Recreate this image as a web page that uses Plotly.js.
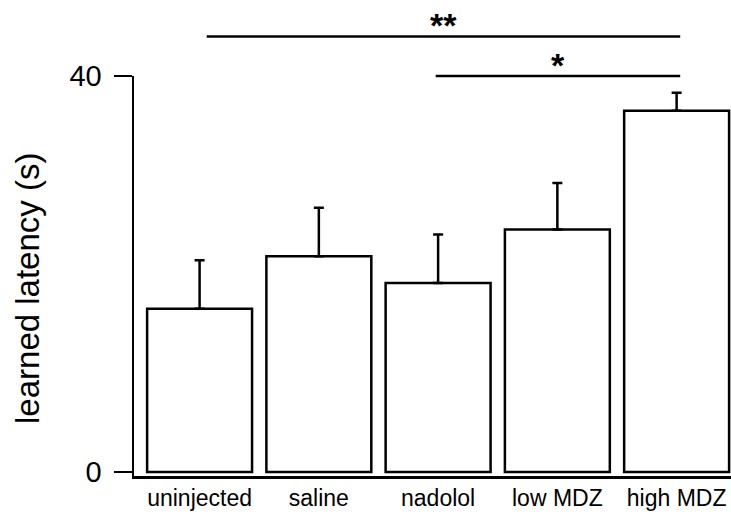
<!DOCTYPE html>
<html>
<head>
<meta charset="utf-8">
<script src="https://cdn.plot.ly/plotly-3.0.1.min.js"></script>
<style>html,body{margin:0;padding:0;background:#fff;}#chart{width:731px;height:516px;}</style>
</head>
<body>
<div id="chart"></div>
<script>
const categories = ['uninjected', 'saline', 'nadolol', 'low MDZ', 'high MDZ'];
const latency = [16.5, 21.8, 19.1, 24.5, 36.5];
const errorUp = [4.9, 4.9, 4.9, 4.7, 1.8];
const sigFrom = [0, 2];
const sigTo = [4, 4];
const sigHeight = [44.0, 40.0];
const sigLabels = ['**', '*'];
const yTickVals = [0, 40];
const yTickText = ['0', '40'];
const yTitle = 'learned latency (s)';

const yMin = -0.4, yMax = 40;
const toPaper = v => (v - yMin) / (yMax - yMin);

const shapes = [];
const annotations = [];
for (let i = 0; i < sigFrom.length; i++) {
  const x0 = sigFrom[i] + (sigFrom[i] === 0 ? 0.06 : -0.02);
  const x1 = sigTo[i] + 0.03;
  const yp = toPaper(sigHeight[i]);
  shapes.push({type: 'line', xref: 'x', yref: 'paper', x0: x0, x1: x1, y0: yp, y1: yp,
    line: {color: '#000', width: 2.5}});
  annotations.push({xref: 'x', yref: 'paper', x: (x0 + x1) / 2, y: yp, yshift: 11,
    text: sigLabels[i], showarrow: false, xanchor: 'center', yanchor: 'middle',
    font: {family: 'Liberation Sans, Arial, sans-serif', size: 34, color: '#000', weight: 'bold'}});
}
annotations.push({xref: 'paper', yref: 'paper', x: -107 / 597, y: (476 - 289) / 400,
  text: yTitle, textangle: -90, showarrow: false, xanchor: 'center', yanchor: 'middle',
  font: {family: 'Liberation Sans, Arial, sans-serif', size: 33, color: '#000'}});

const trace = {
  type: 'bar',
  x: categories.map((c, i) => i),
  y: latency,
  marker: {color: '#fff', line: {color: '#000', width: 2.5}},
  error_y: {type: 'data', symmetric: false, array: errorUp, arrayminus: latency.map(() => 0),
    color: '#000', thickness: 2.5, width: 5},
  hoverinfo: 'none'
};

const layout = {
  width: 731, height: 516,
  margin: {l: 134, r: 0, t: 76, b: 40},
  paper_bgcolor: '#fff', plot_bgcolor: '#fff',
  showlegend: false,
  bargap: 0.12,
  font: {family: 'Liberation Sans, Arial, sans-serif', color: '#000'},
  xaxis: {
    range: [-0.55, 4.456],
    tickmode: 'array', tickvals: categories.map((c, i) => i), ticktext: categories,
    ticks: '', showgrid: false, zeroline: false,
    showline: true, linecolor: '#000', linewidth: 2.5,
    tickfont: {size: 23, color: '#000'}
  },
  yaxis: {
    range: [yMin, yMax],
    tickmode: 'array', tickvals: yTickVals, ticktext: yTickText,
    ticks: 'outside', ticklen: 18, tickwidth: 2.5, tickcolor: '#000',
    ticklabelstandoff: 6,
    showgrid: false, zeroline: false,
    showline: true, linecolor: '#000', linewidth: 2.5,
    tickfont: {size: 29, color: '#000'}
  },
  shapes: shapes,
  annotations: annotations
};

Plotly.newPlot('chart', [trace], layout, {displayModeBar: false, staticPlot: true});
</script>
</body>
</html>
